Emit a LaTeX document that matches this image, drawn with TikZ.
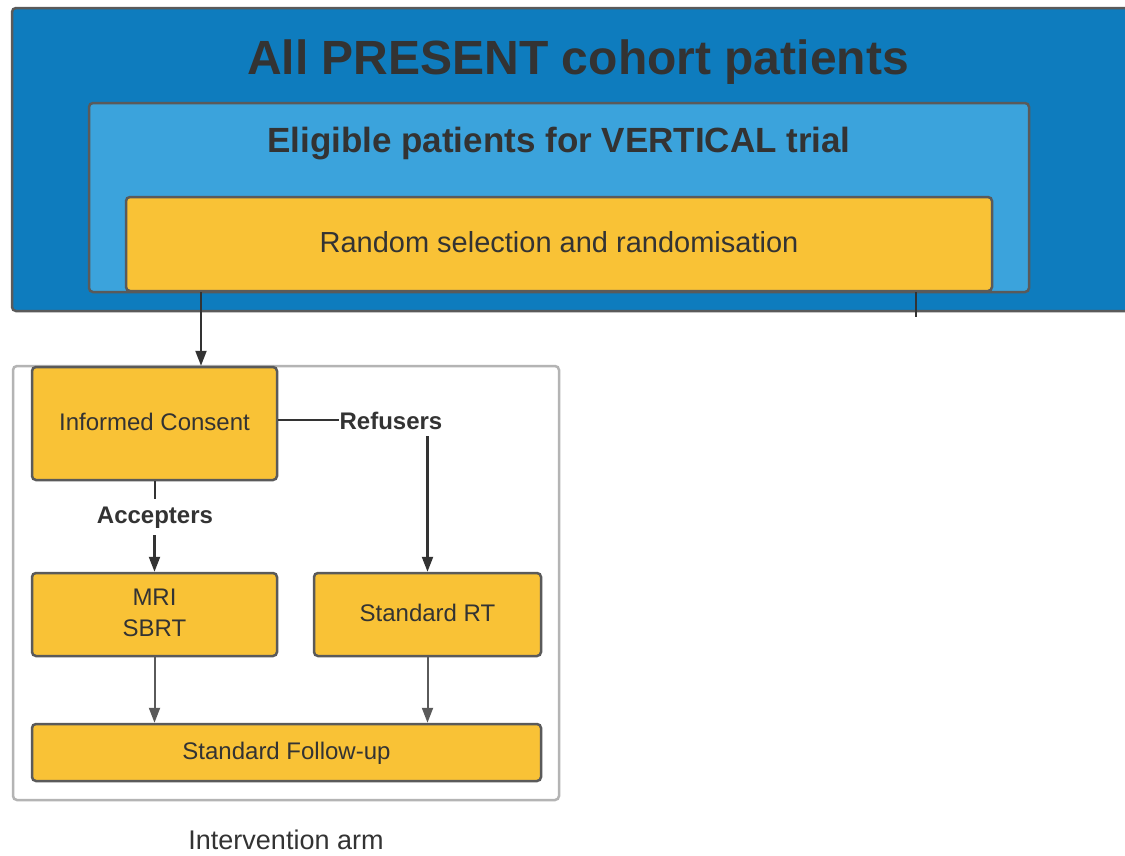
\documentclass[tikz,border=0pt]{standalone}
\usepackage{fontspec}
\setmainfont{Liberation Sans}
\usetikzlibrary{arrows.meta}
\usetikzlibrary{calc}
\definecolor{cohortblue}{HTML}{0E7CBE}
\definecolor{trialblue}{HTML}{3BA3DC}
\definecolor{stepyellow}{HTML}{F9C236}
\definecolor{edgegray}{HTML}{5A5A5A}
\definecolor{armgray}{HTML}{B4B4B4}
\definecolor{inkgray}{HTML}{333333}
\tikzset{
	panel/.style={shape=rectangle,draw=edgegray,line width=2.5pt,rounded corners=4pt,inner sep=0pt},
	stepbox/.style={panel,fill=stepyellow,align=center,text=inkgray,text depth=4pt,font=\fontsize{24}{31}\selectfont},
	branch/.style={text=inkgray,inner xsep=0pt,inner ysep=7pt,font=\fontsize{24}{28}\selectfont\bfseries},
	arr/.style={draw=inkgray,line width=2.2pt,-{Triangle[length=15pt,width=11pt]}},
	arrsoft/.style={arr,draw=edgegray,line width=2pt}
}

\begin{document}
\begin{tikzpicture}[x=1pt,y=-1pt]
	\useasboundingbox (0,0) rectangle (1125,855);
	\clip (0,0) rectangle (1125,855);
	\fill[white] (0,0) rectangle (1125,855);
	% nested cohort panels
	\node (all) [panel,fill=cohortblue,minimum width=1128pt,minimum height=303pt] at (576,159.5) {};
	\node (allttl) [anchor=base,text=inkgray,font=\fontsize{48}{50}\selectfont\bfseries] at (578,74) {All PRESENT cohort patients};
	\node (elig) [panel,fill=trialblue,minimum width=940pt,minimum height=189pt] at (559,197.5) {};
	\node (eligttl) [anchor=base,text=inkgray,font=\fontsize{35}{38}\selectfont\bfseries] at (559,152) {Eligible patients for VERTICAL trial};
	\node (rand) [stepbox,font=\fontsize{29}{32}\selectfont,minimum width=866pt,minimum height=94pt] at (559,244) {Random selection and randomisation};
	% intervention arm
	\node (arm) [panel,draw=armgray,minimum width=546pt,minimum height=434pt] at (286,583) {};
	\node (ic) [stepbox,minimum width=245pt,minimum height=113pt] at (154.5,423.5) {Informed Consent};
	\node (mri) [stepbox,minimum width=245pt,minimum height=83pt] at (154.5,614.5) {MRI\\SBRT};
	\node (srt) [stepbox,minimum width=227pt,minimum height=83pt] at (427.5,614.5) {Standard RT};
	\node (fu) [stepbox,minimum width=509pt,minimum height=57pt] at (286.5,752.5) {Standard Follow-up};
	\node (ref) [branch,anchor=base] at (391,429) {Refusers};
	\node (acc) [branch,anchor=base] at (155,523) {Accepters};
	\node (armlbl) [anchor=base,text=inkgray,font=\fontsize{27}{30}\selectfont] at (286,849) {Intervention arm};
	% connectors
	\coordinate (drop) at (201,0);
	\coordinate (cut) at (916,317);
	\draw[arr] (rand.south -| drop) -- (ic.north -| drop);
	\draw[draw=inkgray,line width=1.6pt] (rand.south -| cut) -- (cut);
	\draw[draw=inkgray,line width=2pt] (ic.east |- ref.west) -- (ref.west);
	\draw[arr] (ref.south -| srt.north) -- (srt.north);
	\draw[draw=inkgray,line width=2pt] (ic.south) -- (acc.north -| ic.south);
	\draw[arr] (acc.south -| mri.north) -- (mri.north);
	\draw[arrsoft] (mri.south) -- (mri.south |- fu.north);
	\draw[arrsoft] (srt.south) -- (srt.south |- fu.north);
\end{tikzpicture}
\end{document}
